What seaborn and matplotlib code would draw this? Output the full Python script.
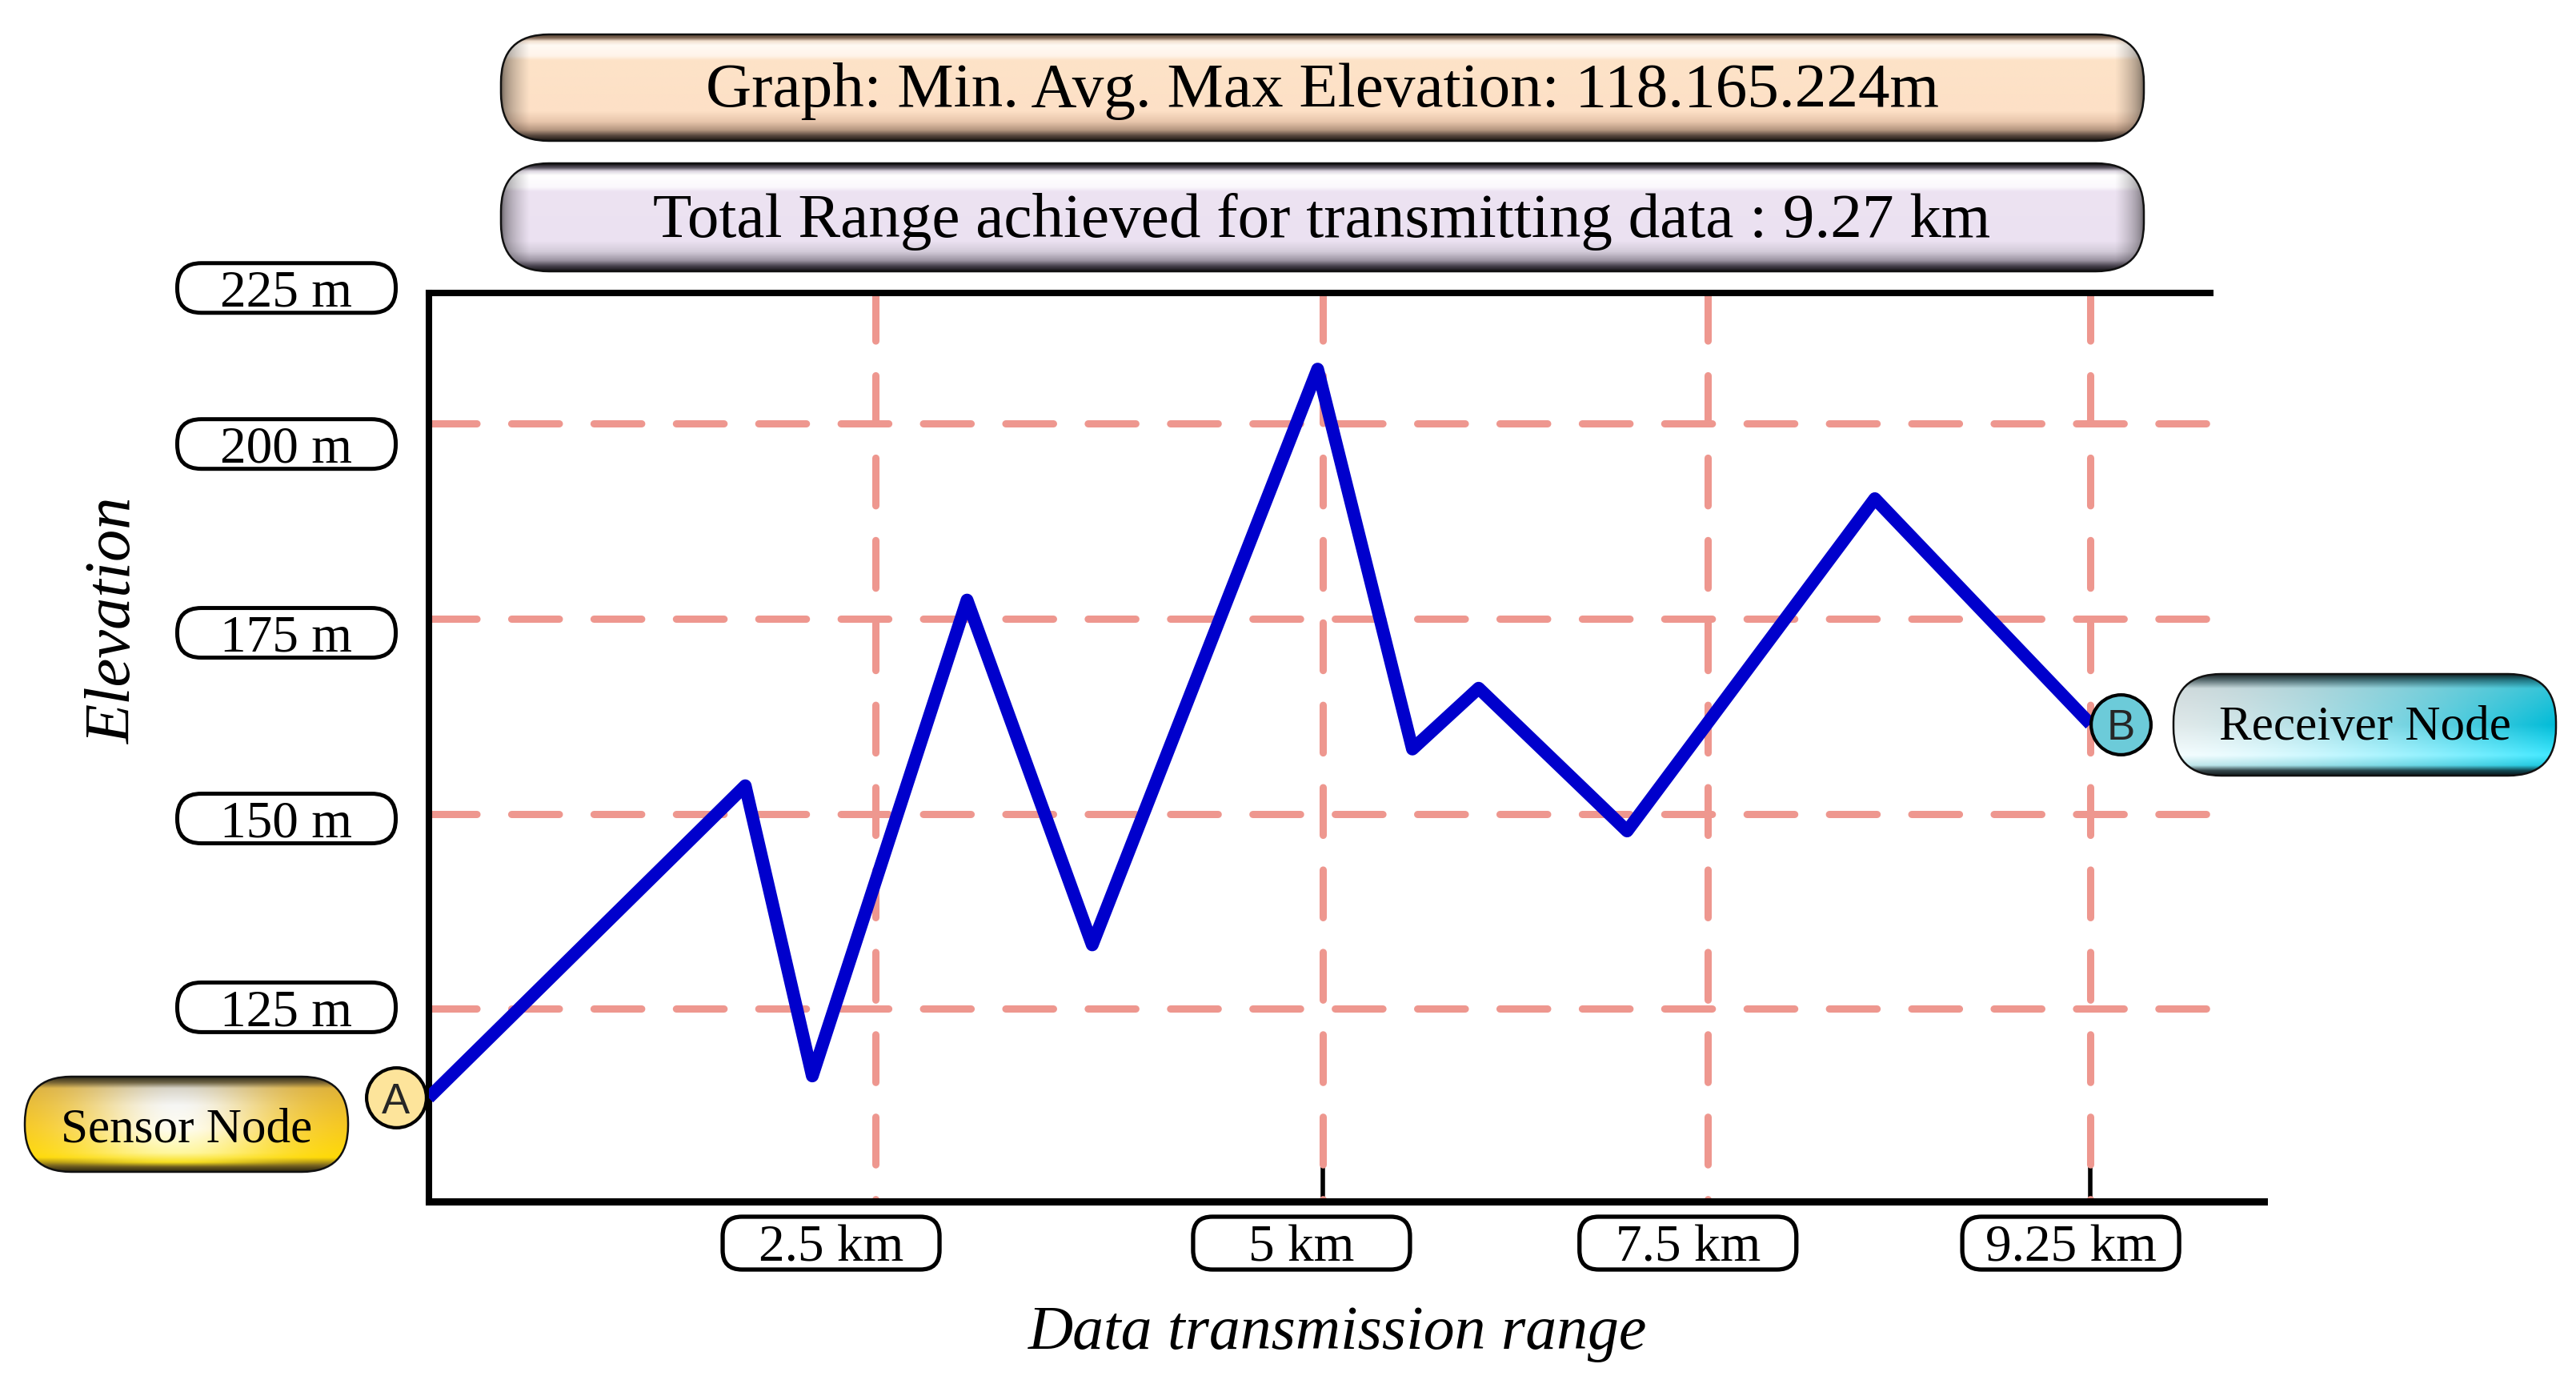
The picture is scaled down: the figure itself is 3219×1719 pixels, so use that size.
import numpy as np
import matplotlib
matplotlib.use("Agg")
import matplotlib.pyplot as plt
import matplotlib.colors as mcolors
from matplotlib.patches import FancyBboxPatch
from matplotlib.transforms import offset_copy
import seaborn as sns

# ---- values ----
dist_km = [0.0, 1.77, 2.145, 3.01, 3.71, 4.97, 5.50, 5.87, 6.70, 8.085, 9.29]
elev_m = [113.6, 153.6, 116.4, 177.4, 133.2, 207.0, 158.3, 166.1, 147.8, 190.4, 161.5]

ytick_pos = [217.4, 197.4, 173.2, 149.4, 125.2]
ytick_labels = ["225 m", "200 m", "175 m", "150 m", "125 m"]
ygrid_pos = [200, 175, 150, 125]

xtick_pos = [2.25, 4.88, 7.04, 9.18]
xtick_labels = ["2.5 km", "5 km", "7.5 km", "9.25 km"]
xgrid_pos = [2.5, 5.0, 7.15, 9.29]
xmark_pos = [5.0, 9.29]

title_main = "Graph: Min. Avg. Max Elevation: 118.165.224m"
title_range = "Total Range achieved for transmitting data : 9.27 km"
start_node, end_node = "Sensor Node", "Receiver Node"
start_tag, end_tag = "A", "B"

# ---- figure setup ----
W, H = 3219, 1719
DPI = 100
sns.set_theme(style="white")
plt.rcParams["font.family"] = ["Liberation Serif", "DejaVu Serif"]

fig = plt.figure(figsize=(W / DPI, H / DPI), dpi=DPI)

# decoration layer in image pixels (origin top-left)
deco = fig.add_axes([0, 0, 1, 1], zorder=0)
deco.axis("off")

XLIM = (0, 10.26)
YLIM = (100.3, 218.0)
ax_left, ax_right = 535.6, 2829.0
ax_top, ax_bottom = 353.9, 1501.1
ax = fig.add_axes([ax_left / W, 1 - ax_bottom / H,
                   (ax_right - ax_left) / W, (ax_bottom - ax_top) / H], zorder=1)
ax.patch.set_alpha(0)
ax.set_xlim(*XLIM)
ax.set_ylim(*YLIM)
top_y, grid_right = 216.8, 10.02

GRID = "#EE978F"
ax.hlines(ygrid_pos, 0, grid_right, colors=GRID, linewidths=6.5,
          linestyles=(0, (6.6, 4.8)), capstyle="round", zorder=1)
ax.vlines(xgrid_pos, top_y, YLIM[0], colors=GRID, linewidths=6.5,
          linestyles=(0, (6.6, 4.8)), capstyle="round", zorder=1)

sns.lineplot(x=dist_km, y=elev_m, sort=False, ax=ax, color="#0000CC", zorder=3)
path_line = ax.lines[-1]
path_line.set_linewidth(11.5)
path_line.set_solid_joinstyle("round")
path_line.set_solid_capstyle("butt")

# spines
for side in ["left", "top", "bottom"]:
    ax.spines[side].set_color("black")
ax.spines["left"].set_linewidth(5.8)
ax.spines["top"].set_linewidth(5.8)
ax.spines["bottom"].set_linewidth(6.5)
ax.spines["right"].set_visible(False)
ax.spines["top"].set_position(("data", top_y))
ax.spines["top"].set_bounds(0, 9.96)
ax.spines["left"].set_bounds(YLIM[0], top_y)

# ticks
ax.set_yticks(ytick_pos, ytick_labels)
ax.set_xticks(xtick_pos, xtick_labels)
ax.set_xticks(xmark_pos, minor=True)
ax.tick_params(axis="y", length=0, pad=127.9, labelsize=47, labelcolor="black")
ax.tick_params(axis="x", which="major", length=0, pad=37.4, labelsize=47, labelcolor="black")
ax.tick_params(axis="x", which="minor", bottom=True, direction="in", length=58,
               width=4, color="black")
for lbl in ax.get_yticklabels():
    lbl.set_ha("center")
    lbl.set_va("center_baseline")
for lbl in ax.get_xticklabels():
    lbl.set_va("center_baseline")

ax.set_ylabel("Elevation", fontsize=58, style="italic", color="black")
ax.yaxis.set_label_coords(-0.1749, 0.6329)
ax.yaxis.label.set_va("center_baseline")
ax.set_xlabel("Data transmission range", fontsize=56, style="italic", color="black")
ax.xaxis.set_label_coords(0.4955, -0.1368)
ax.xaxis.label.set_va("center_baseline")

# end point tags
for i, tag, dx, fc in [(0, start_tag, -41, "#FDE49B"), (-1, end_tag, 38, "#6CCBD9")]:
    tr = offset_copy(ax.transData, fig=fig, x=dx, y=0, units="dots")
    ax.scatter([dist_km[i]], [elev_m[i]], s=2900, c=fc, edgecolors="black",
               linewidths=3.0, transform=tr, clip_on=False, zorder=5)
    ax.text(dist_km[i], elev_m[i], tag, transform=tr, ha="center", va="center_baseline",
            fontsize=38, family=["Liberation Sans", "DejaVu Sans"], zorder=6)


def to_img(x, y):
    px, py = ax.transData.transform((x, y))
    return px, H - py


def pill(cx, cy, w, h, r, lw):
    deco.add_patch(FancyBboxPatch((cx - w / 2, cy - h / 2), w, h,
                                  boxstyle=f"round,pad=0,rounding_size={r}",
                                  fc="white", ec="black", lw=lw, zorder=1))


def stops(spec, n=240):
    t = np.linspace(0, 1, n)
    pos = [s[0] for s in spec]
    cols = np.array([mcolors.to_rgb(s[1]) for s in spec])
    return np.stack([np.interp(t, pos, cols[:, k]) for k in range(3)], axis=-1)


def glossy_box(x0, y0, w, h, r, img):
    patch = FancyBboxPatch((x0, y0), w, h, boxstyle=f"round,pad=0,rounding_size={r}",
                           fc="none", ec="#111111", lw=1.8, zorder=2)
    deco.add_patch(patch)
    im = deco.imshow(img, extent=(x0, x0 + w, y0 + h, y0), aspect="auto",
                     interpolation="bilinear", zorder=1)
    im.set_clip_path(patch)


def banded(vert, w, side_px=34):
    xs = np.linspace(0, w, 600)
    d = np.minimum(xs, w - xs)
    shade = 0.5 + 0.5 * np.clip(d / side_px, 0, 1) ** 0.6
    return np.clip(vert[:, None, :] * shade[None, :, None], 0, 1)


# tick label pills
for yp in ytick_pos:
    _, cy = to_img(0, yp)
    pill(358, cy, 273, 62, 30, 3.6)
for xp in xtick_pos:
    cx, _ = to_img(xp, 0)
    pill(cx, 1553, 271, 66, 24, 3.8)

# title banners
peach = stops([(0.00, "#5a4636"), (0.03, "#7d6553"), (0.06, "#f2e0d0"), (0.10, "#fffaf4"),
               (0.20, "#fff4ea"), (0.24, "#fde3c8"), (0.72, "#fde0c6"), (0.82, "#e8c6ac"),
               (0.90, "#b4957f"), (0.95, "#5a4a40"), (1.00, "#1c1612")])
lilac = stops([(0.00, "#0c0a0e"), (0.04, "#5e5864"), (0.07, "#dcd6e0"), (0.11, "#ffffff"),
               (0.22, "#fbf8fd"), (0.26, "#ede3f2"), (0.72, "#ebe1f1"), (0.82, "#d2cad8"),
               (0.90, "#9c94a2"), (0.95, "#4a4450"), (1.00, "#121014")])
glossy_box(626, 43, 2053, 133, 60, banded(peach, 2053))
glossy_box(626, 204, 2053, 135, 60, banded(lilac, 2053))
deco.text(1652, 106, title_main, ha="center", va="center_baseline", fontsize=57, color="black")
deco.text(1652, 268, title_range, ha="center", va="center_baseline", fontsize=57, color="black")

# sensor node (gold)
xs = np.linspace(0, 1, 500)
gold_in = stops([(0, "#2e2a1a"), (0.06, "#6d6448"), (0.12, "#d8d4c8"), (0.3, "#f6f6f4"),
                 (0.55, "#fffdf0"), (0.8, "#fff7a0"), (0.9, "#f8e020"), (0.95, "#6a5a20"),
                 (1, "#2a2510")])
gold_out = stops([(0, "#2e2a1a"), (0.06, "#7a6430"), (0.12, "#e0b030"), (0.5, "#f5c518"),
                  (0.85, "#ffd800"), (0.93, "#7a6420"), (1, "#2a2510")])
g = np.exp(-((xs - 0.47) / 0.3) ** 2)
gold = gold_out[:, None, :] * (1 - g[None, :, None]) + gold_in[:, None, :] * g[None, :, None]
glossy_box(31, 1345, 404, 119, 58, gold)
deco.text(233, 1405, start_node, ha="center", va="center_baseline", fontsize=44, color="black")

# receiver node (cyan)
cy_left = stops([(0, "#1c2426"), (0.06, "#5a6c70"), (0.14, "#cfdadc"), (0.5, "#dfe9ea"),
                 (0.8, "#f4fdff"), (0.9, "#c0e6ea"), (0.95, "#3a4a4e"), (1, "#141c1e")])
cy_right = stops([(0, "#0c2428"), (0.06, "#1a7a88"), (0.14, "#30c4d8"), (0.5, "#00bcd8"),
                  (0.8, "#40e8ff"), (0.9, "#18c8e0"), (0.95, "#0a4a56"), (1, "#061418")])
wx = xs ** 1.5
cyan = cy_left[:, None, :] * (1 - wx[None, :, None]) + cy_right[:, None, :] * wx[None, :, None]
glossy_box(2716, 842, 478, 127, 60, cyan)
deco.text(2955, 903, end_node, ha="center", va="center_baseline", fontsize=44, color="black")

deco.set_xlim(0, W)
deco.set_ylim(H, 0)

fig.savefig("out.png", dpi=DPI)
